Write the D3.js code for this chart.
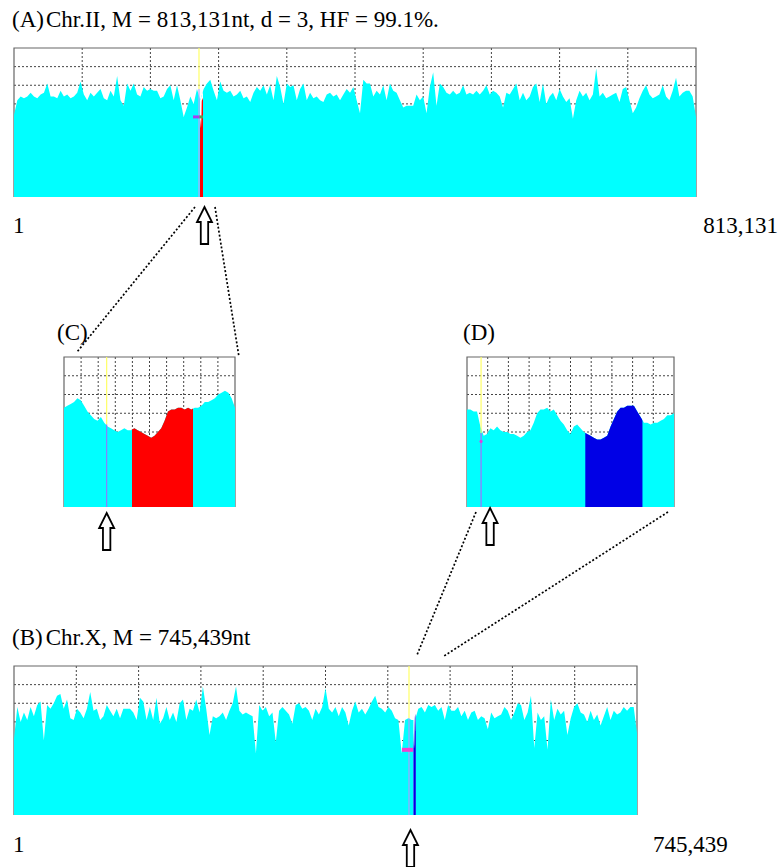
<!DOCTYPE html>
<html><head><meta charset="utf-8">
<script src="https://cdn.jsdelivr.net/npm/d3@7"></script>
<style>
body{margin:0;background:#fff}
svg{display:block}
text{font-family:"Liberation Serif","Times New Roman",serif;fill:#000}
</style>
</head><body>
<svg id="c" width="782" height="867"></svg>
<script>
// ---------------- DATA ----------------
const chrII_length = 813131;
const chrX_length = 745439;
const titleA = ["(A)", "Chr.II, M = 813,131nt, d = 3, HF = 99.1%."];
const titleB = ["(B)", "Chr.X, M = 745,439nt"];
const labelC = "(C)";
const labelD = "(D)";

// depth profile, chromosome II (evenly spaced along 1..813,131)
const chrII_depth = [44,52,54,53,54,56,54,53,55,56, 61,54,54,53,57,54,55,53,54,56,
 62,55,52,56,54,56,58,53,52,57, 54,65,52,49,61,57,61,55,54,59,
 57,58,57,57,53,54,58,60,52,60, 52,43,48,54,50,58,52,58,61,63,
 57,52,62,57,56,57,54,55,57,53, 54,51,56,59,57,60,55,60,52,65,
 59,50,61,59,60,52,58,61,52,56, 53,54,52,51,55,56,54,55,52,55,
 58,56,59,52,45,63,61,61,54,57, 55,60,52,61,57,56,
 52,48,49,49,49,55,52,54,45,59, 67,49,61,59,56,55,57,55,56,60,
 55,56,55,57,55,57,60,55,57,56, 54,48,56,55,58,61,52,56,52,54,
 59,61,51,61,50,54,56,52,58,54, 51,53,42,52,57,54,56,52,55,69,
 54,56,53,54,55,56,51,58,59,52, 45,48,53,57,60,55,53,54,55,60,
 54,52,57,64,54,56,57,57,54,43];

// depth profile, chromosome X (evenly spaced along 1..745,439)
const chrX_depth = [41,58,50,55,51,58,53,59,61,40, 59,57,60,64,65,57,62,52,51,57,
 55,52,57,66,56,57,51,53,59,56, 53,57,52,57,57,57,55,51,63,61,
 51,58,51,63,49,52,58,51,55,50, 60,62,51,57,56,62,55,69,57,43,
 53,52,53,55,51,56,60,69,56,54, 55,54,53,33,59,56,58,53,55,39,
 56,58,56,54,49,59,60,57,58,56, 51,57,54,58,68,57,55,58,53,58,
 55,48,56,61,55,57,54,57,61,64, 58,57,55,58,56,52,
 51,33,51,52,51,51,57,58,55,59, 58,59,56,58,51,59,56,56,58,53,
 56,51,55,56,51,53,52,46,55,52, 53,54,58,56,51,55,60,59,51,55,
 64,36,55,51,53,35,62,51,57,54, 56,43,52,58,60,55,54,50,56,51,
 54,48,53,58,51,56,54,55,58,56, 58,58,44];

// zoomed region (C) on chromosome II
const regionC = [217900, 227600];
const regionC_depth = [53,54,55,56,58,57,54,51,49,47, 46,48,45,43,42,41,40,41,42,41,
 41,42,41,40,39,38,37,38,40,42, 46,51,52,52,53,53,52,53,52,53,
 53,54,56,56,57,58,60,61,62,61, 58,53];
const regionC_red = [221760, 225214];

// zoomed region (D) on chromosome X
const regionD = [471900, 482400];
const regionD_depth = [52,52,51,51,43,38,39,42,41,43, 41,40,40,39,39,38,37,38,40,41,
 45,50,52,52,53,51,52,49,46,44, 41,39,43,44,42,40,39,38,37,36,
 36,37,38,43,47,51,53,53,54,54, 54,51,48,45,45,44,45,45,46,47,
 49,49,50];
const regionD_blue = [477900, 480800];

// markers
const markerII = {pos: 220566, top: 58};
const markerC  = {pos: 220320, top: 44};
const markerD  = {pos: 472614, top: 39.5, dot: 35};
const markerX  = {pos: 472630, top: 52};
const tickII = {from: 213400, to: 221000, to2: 225300, value: 43};
const tickX  = {from: 464250, to: 477400, value: 35};
const arrowII = 227100, arrowC = 220320, arrowD = 473070, arrowX = 474400;

// ---------------- DRAWING ----------------
const svg = d3.select("#c");
const YMAX = 80;

function toPts(vals, dom){
  return vals.map((v, i) => [dom[0] + i * (dom[1] - dom[0]) / (vals.length - 1), v]);
}

function panel(cfg){
  const x = d3.scaleLinear().domain(cfg.domain).range([cfg.x0, cfg.x1]);
  const y = d3.scaleLinear().domain([0, YMAX]).range([cfg.y1, cfg.y0]);
  const g = svg.append("g");
  const [s, e] = cfg.domain;
  const vt = d3.range(1, 10).map(i => s + i * (e - s) / 10);
  const ht = d3.range(10, YMAX, 10);
  g.selectAll(".vg").data(vt).join("line")
    .attr("x1", d => x(d)).attr("x2", d => x(d))
    .attr("y1", y(YMAX)).attr("y2", y(0))
    .attr("stroke", "#444").attr("stroke-width", 1).attr("stroke-dasharray", "2,2");
  g.selectAll(".hg").data(ht).join("line")
    .attr("x1", x(s)).attr("x2", x(e))
    .attr("y1", d => y(d)).attr("y2", d => y(d))
    .attr("stroke", "#444").attr("stroke-width", 1).attr("stroke-dasharray", "2,2");
  g.append("path")
    .attr("d", `M${x(s)},${y(0)}V${y(YMAX)}H${x(e)}V${y(0)}`)
    .attr("fill", "none").attr("stroke", "#666").attr("stroke-width", 1.2);
  const pts = toPts(cfg.values, cfg.domain);
  const area = d3.area().x(d => x(d[0])).y0(y(0)).y1(d => y(d[1]));
  g.append("path").datum(pts).attr("d", area).attr("fill", "#00ffff");
  return {x, y, g, area, pts};
}

let clipId = 0;
function highlight(p, range, dom, vals, color, erase){
  const pts = toPts(vals, dom);
  const id = "clip" + (clipId++);
  const x0 = p.x(range[0]), x1 = p.x(range[1]);
  p.g.append("clipPath").attr("id", id).append("rect")
    .attr("x", x0).attr("y", p.y(YMAX)).attr("width", x1 - x0).attr("height", p.y(0) - p.y(YMAX));
  if (erase) {
    p.g.append("path").datum(p.pts).attr("d", p.area).attr("fill", "#fff").attr("clip-path", `url(#${id})`);
  }
  p.g.append("path").datum(pts).attr("d", p.area).attr("fill", color).attr("clip-path", `url(#${id})`);
}

function marker(p, m, purple){
  p.g.append("line").attr("x1", p.x(m.pos)).attr("x2", p.x(m.pos))
    .attr("y1", p.y(YMAX)).attr("y2", p.y(m.top)).attr("stroke", "#ffff66").attr("stroke-width", 1.2);
  p.g.append("line").attr("x1", p.x(m.pos)).attr("x2", p.x(m.pos))
    .attr("y1", p.y(m.top)).attr("y2", p.y(0)).attr("stroke", purple).attr("stroke-width", 1.2);
}

function arrow(cx, top){
  const h = 37, hh = 15, hw = 7.5, sw = 3.7;
  const path = `M${cx},${top} L${cx + hw},${top + hh} L${cx + sw},${top + hh} L${cx + sw},${top + h}
    L${cx - sw},${top + h} L${cx - sw},${top + hh} L${cx - hw},${top + hh} Z`;
  svg.append("path").attr("d", path).attr("fill", "#fff").attr("stroke", "#000").attr("stroke-width", 1.8);
}

function dotted(a, b){
  svg.append("line").attr("x1", a[0]).attr("y1", a[1]).attr("x2", b[0]).attr("y2", b[1])
    .attr("stroke", "#000").attr("stroke-width", 1.7).attr("stroke-dasharray", "2,2");
}

function text(str, x, y, anchor){
  return svg.append("text").attr("x", x).attr("y", y).attr("font-size", 23)
    .attr("text-anchor", anchor || "start").text(str);
}

// Panel A
const pA = panel({x0: 14, x1: 696, y0: 48, y1: 197, domain: [1, chrII_length], values: chrII_depth});
marker(pA, markerII, "#b8a8ff");
highlight(pA, regionC_red, regionC, regionC_depth, "#ff0000", true);
pA.g.append("line").attr("x1", pA.x(tickII.from)).attr("x2", pA.x(tickII.to))
  .attr("y1", pA.y(tickII.value)).attr("y2", pA.y(tickII.value)).attr("stroke", "#a640f0").attr("stroke-width", 3);
pA.g.append("line").attr("x1", pA.x(tickII.to)).attr("x2", pA.x(tickII.to2))
  .attr("y1", pA.y(tickII.value)).attr("y2", pA.y(tickII.value)).attr("stroke", "#5a9a50").attr("stroke-width", 3);

// Panel C
const pC = panel({x0: 64, x1: 235, y0: 357, y1: 507, domain: regionC, values: regionC_depth});
highlight(pC, regionC_red, regionC, regionC_depth, "#ff0000", false);
marker(pC, markerC, "#8c7cff");

// Panel D
const pD = panel({x0: 467, x1: 674, y0: 357, y1: 507, domain: regionD, values: regionD_depth});
highlight(pD, regionD_blue, regionD, regionD_depth, "#0000e6", false);
marker(pD, markerD, "#a070ff");
pD.g.append("circle").attr("cx", pD.x(markerD.pos)).attr("cy", pD.y(markerD.dot)).attr("r", 1.6).attr("fill", "#e040e0");

// Panel B
const pB = panel({x0: 14, x1: 637, y0: 666, y1: 815, domain: [1, chrX_length], values: chrX_depth});
marker(pB, markerX, "#a8a0ff");
highlight(pB, regionD_blue, regionD, regionD_depth, "#0000e6", true);
pB.g.append("line").attr("x1", pB.x(tickX.from)).attr("x2", pB.x(tickX.to))
  .attr("y1", pB.y(tickX.value)).attr("y2", pB.y(tickX.value)).attr("stroke", "#f040d0").attr("stroke-width", 4);

// connectors
dotted([195, 207], [77, 352]);
dotted([215, 207], [239, 357]);
dotted([476, 512], [417, 655]);
dotted([668, 512], [444, 656]);

// arrows
arrow(pA.x(arrowII), 207);
arrow(pC.x(arrowC), 513);
arrow(pD.x(arrowD), 508);
arrow(pB.x(arrowX), 830);

// texts
const tA = text("", 12, 27);
tA.append("tspan").text(titleA[0]);
tA.append("tspan").attr("dx", 2).text(titleA[1]);
text("1", 13, 233);
text(d3.format(",")(chrII_length), 778, 233, "end");
text(labelC, 57, 340);
text(labelD, 463, 340);
const tB = text("", 12, 645);
tB.append("tspan").text(titleB[0]);
tB.append("tspan").attr("dx", 3).text(titleB[1]);
text("1", 13, 852);
text(d3.format(",")(chrX_length), 653, 852);
</script>
</body></html>
